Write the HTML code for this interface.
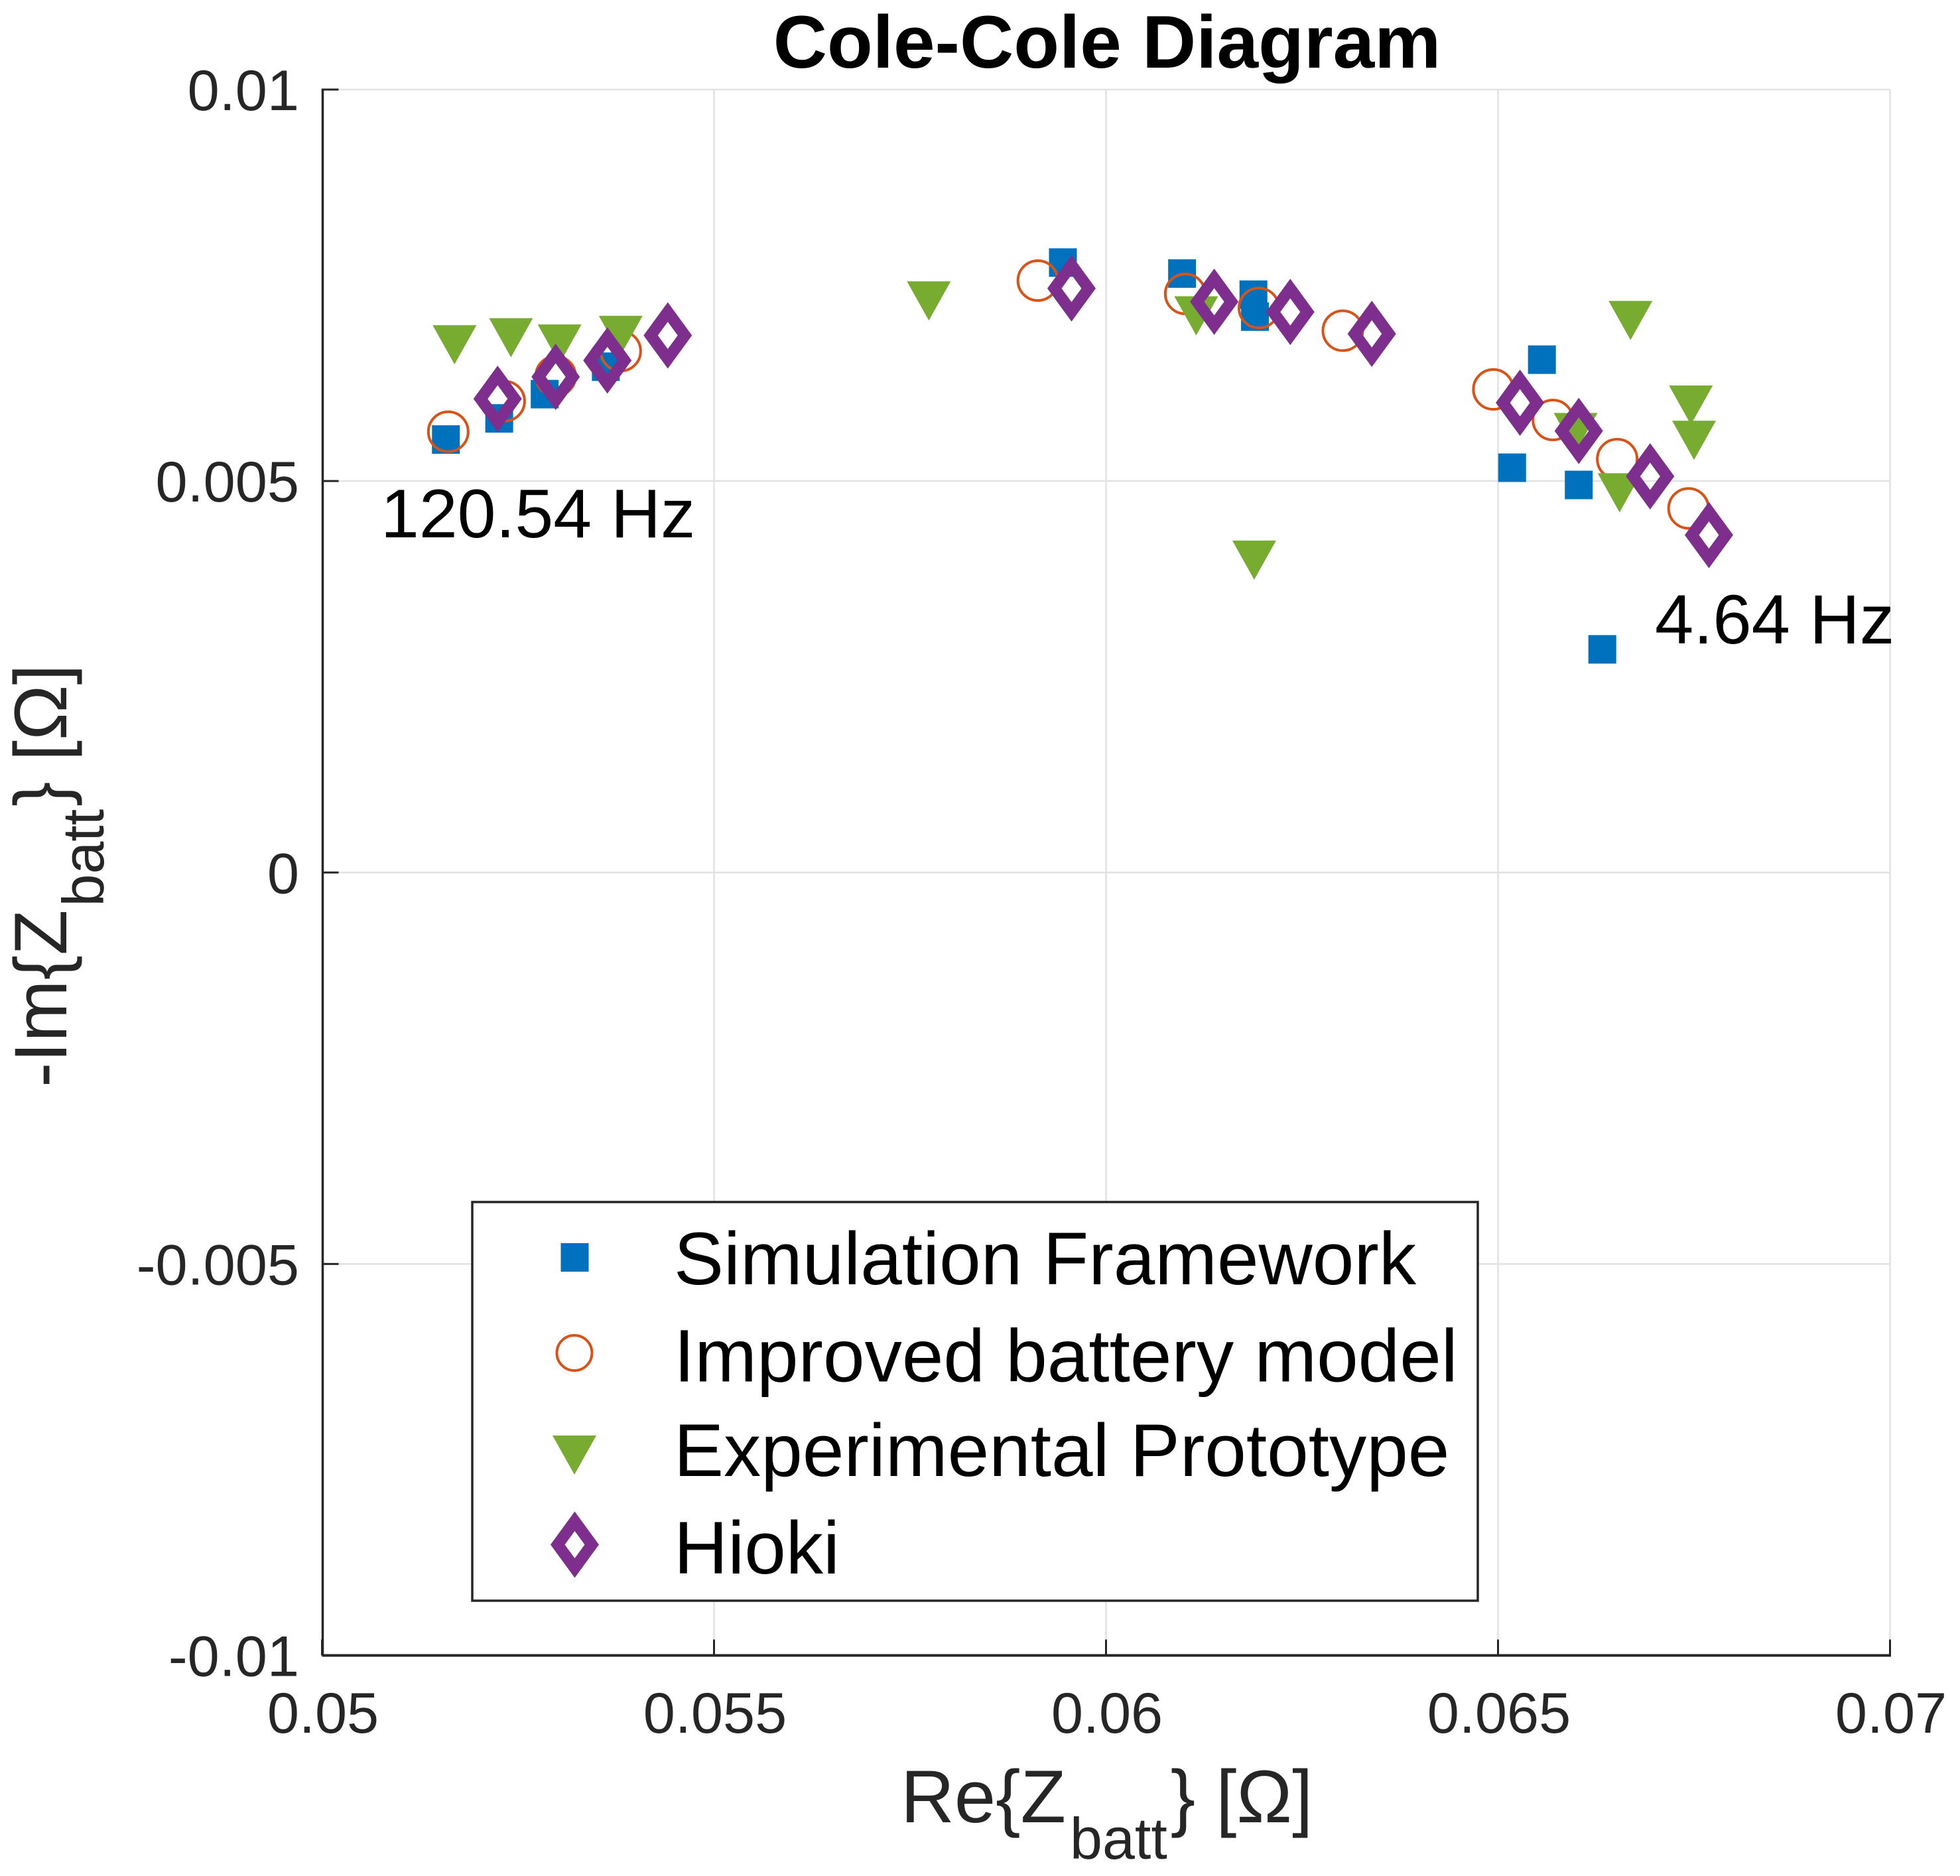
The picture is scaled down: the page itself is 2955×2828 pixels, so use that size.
<!DOCTYPE html>
<html lang="en">
<head>
<meta charset="utf-8">
<title>Cole-Cole Diagram</title>
<style>
html,body{margin:0;padding:0;background:#fff;}
svg{display:block;font-family:"Liberation Sans",Arial,sans-serif;}
</style>
</head>
<body>
<svg id="chart" xmlns="http://www.w3.org/2000/svg" width="2955" height="2828" viewBox="0 0 2955 2828">
  <rect x="0" y="0" width="2955" height="2828" fill="#ffffff"/>
  <g id="grid"></g>
  <g id="axes"></g>
  <g id="marks"></g>

  <text x="1669" y="102" font-size="112.5" font-weight="700" fill="#000" text-anchor="middle">Cole-Cole Diagram</text>
  <text x="1358" y="2747" font-size="112" fill="#262626">Re{Z<tspan font-size="88" dx="6" dy="55">batt</tspan><tspan dx="5" dy="-55">} [Ω]</tspan></text>
  <text transform="translate(100,1639) rotate(-90)" font-size="112" fill="#262626">-Im{Z<tspan font-size="88" dx="5" dy="56">batt</tspan><tspan dx="4" dy="-56">} [Ω]</tspan></text>
  <text x="574" y="810" font-size="104" fill="#000">120.54 Hz</text>
  <text x="2495" y="970" font-size="104.8" fill="#000">4.64 Hz</text>

  <g>
    <rect x="712" y="1812" width="1516" height="601" fill="#ffffff" stroke="#262626" stroke-width="3.5"/>
    <g id="legend-markers"></g>
    <text x="1016" y="1936" font-size="112.5" fill="#000">Simulation Framework</text>
    <text x="1016" y="2082.5" font-size="112.5" fill="#000">Improved battery model</text>
    <text x="1016" y="2225" font-size="112.5" fill="#000">Experimental Prototype</text>
    <text x="1016" y="2372" font-size="112.5" fill="#000">Hioki</text>
  </g>
</svg>
<script>
// Chart data
const xTicks = [0.05, 0.055, 0.06, 0.065, 0.07];
const yTicks = [0.01, 0.005, 0, -0.005, -0.01];
const xTickLabels = ['0.05', '0.055', '0.06', '0.065', '0.07'];
const yTickLabels = ['0.01', '0.005', '0', '-0.005', '-0.01'];

const simulationRe = [0.05158, 0.05226, 0.05284, 0.05362, 0.05945, 0.06097, 0.06188, 0.06190, 0.06556, 0.06518, 0.06603, 0.06633];
const simulationIm = [0.00553, 0.00580, 0.00611, 0.00646, 0.00779, 0.00765, 0.00738, 0.00710, 0.00655, 0.00517, 0.00495, 0.00285];

const improvedRe = [0.05161, 0.05233, 0.05298, 0.05381, 0.05913, 0.06101, 0.06195, 0.06302, 0.06494, 0.06570, 0.06652, 0.06743];
const improvedIm = [0.00563, 0.00602, 0.00634, 0.00666, 0.00756, 0.00739, 0.00721, 0.00692, 0.00617, 0.00578, 0.00528, 0.00465];

const experimentalRe = [0.05169, 0.05241, 0.05303, 0.05381, 0.05774, 0.06115, 0.06189, 0.06669, 0.06746, 0.06750, 0.06599, 0.06655];
const experimentalIm = [0.00674, 0.00683, 0.00675, 0.00686, 0.00730, 0.00711, 0.00399, 0.00705, 0.00597, 0.00552, 0.00562, 0.00485];

const hiokiRe = [0.05224, 0.05298, 0.05364, 0.05441, 0.05956, 0.06138, 0.06235, 0.06339, 0.06528, 0.06603, 0.06694, 0.06769];
const hiokiIm = [0.00605, 0.00633, 0.00654, 0.00686, 0.00746, 0.00729, 0.00716, 0.00688, 0.00600, 0.00564, 0.00506, 0.00431];

// Axis functions
const NS = 'http://www.w3.org/2000/svg';
const plotLeft = 485.5, plotRight = 2849.5, plotTop = 135, plotBottom = 2495.5;
function xPos(v) { return plotLeft + (v - 0.05) / 0.02 * (plotRight - plotLeft); }
function yPos(v) { return plotTop + (0.01 - v) / 0.02 * (plotBottom - plotTop); }

function make(tag, props, parent) {
  const el = document.createElementNS(NS, tag);
  for (const k in props) el.setAttribute(k, props[k]);
  parent.appendChild(el);
  return el;
}

// Marker shapes
const BLUE = '#0072BD', ORANGE = '#D95319', GREEN = '#77AC30', PURPLE = '#7E2F8E';
function squareMark(parent, cx, cy) {
  return make('rect', {x: cx - 21, y: cy - 21.5, width: 42, height: 43, fill: BLUE}, parent);
}
function circleMark(parent, cx, cy, r) {
  return make('circle', {cx: cx, cy: cy, r: r, fill: 'none', stroke: ORANGE, 'stroke-width': 4}, parent);
}
function triangleMark(parent, cx, cy) {
  const pts = (cx - 33) + ',' + (cy - 29.5) + ' ' + (cx + 33) + ',' + (cy - 29.5) + ' ' + cx + ',' + (cy + 29.5);
  return make('polygon', {points: pts, fill: GREEN}, parent);
}
function diamondMark(parent, cx, cy) {
  const d = 'M' + (cx - 36.5) + ' ' + cy + 'L' + cx + ' ' + (cy - 50) + 'L' + (cx + 36.5) + ' ' + cy + 'L' + cx + ' ' + (cy + 50) + 'Z' +
            'M' + (cx - 15) + ' ' + cy + 'L' + cx + ' ' + (cy - 20.5) + 'L' + (cx + 15) + ' ' + cy + 'L' + cx + ' ' + (cy + 20.5) + 'Z';
  return make('path', {d: d, fill: PURPLE, 'fill-rule': 'evenodd'}, parent);
}

// Grid
const gridG = document.getElementById('grid');
xTicks.forEach(function (t) {
  if (t === xTicks[0]) return;
  const line = make('line', {x1: xPos(t), x2: xPos(t), y1: plotTop, y2: plotBottom, stroke: '#e2e2e2', 'stroke-width': 2.5}, gridG);
  
  
});
yTicks.forEach(function (t) {
  if (t === yTicks[yTicks.length - 1]) return;
  const line = make('line', {x1: plotLeft, x2: plotRight, y1: yPos(t), y2: yPos(t), stroke: '#e2e2e2', 'stroke-width': 2.5}, gridG);
  
  
});

// Axes
const axesG = document.getElementById('axes');
const xAxisLine = make('line', {x1: plotLeft, x2: plotRight + 1.5, y1: plotBottom, y2: plotBottom, stroke: '#262626', 'stroke-width': 4}, axesG);


const yAxisLine = make('line', {x1: plotLeft + 1, x2: plotLeft + 1, y1: plotTop - 1.5, y2: plotBottom, stroke: '#262626', 'stroke-width': 3.5}, axesG);



xTicks.forEach(function (t, i) {
  const tick = make('line', {x1: xPos(t), x2: xPos(t), y1: plotBottom, y2: plotBottom - 24, stroke: '#262626', 'stroke-width': 3}, axesG);
  
  
  const label = make('text', {x: xPos(t) + 1.5, y: 2612, 'font-size': 86.5, fill: '#262626', 'text-anchor': 'middle'}, axesG);
  
  
  label.textContent = xTickLabels[i];
});
yTicks.forEach(function (t, i) {
  const tick = make('line', {x1: plotLeft, x2: plotLeft + 25, y1: yPos(t), y2: yPos(t), stroke: '#262626', 'stroke-width': 3}, axesG);
  
  
  const label = make('text', {x: 451, y: yPos(t) + 31, 'font-size': 86.5, fill: '#262626', 'text-anchor': 'end'}, axesG);
  
  
  label.textContent = yTickLabels[i];
});

// Series
const marksG = document.getElementById('marks');
const squaresG = make('g', {}, marksG);


simulationRe.forEach(function (v, i) {
  const m = squareMark(squaresG, xPos(v), yPos(simulationIm[i]));
  
  
});
const circlesG = make('g', {}, marksG);


improvedRe.forEach(function (v, i) {
  const m = circleMark(circlesG, xPos(v), yPos(improvedIm[i]), 30);
  
  
});
const trianglesG = make('g', {}, marksG);


experimentalRe.forEach(function (v, i) {
  const m = triangleMark(trianglesG, xPos(v), yPos(experimentalIm[i]));
  
  
});
const diamondsG = make('g', {}, marksG);


hiokiRe.forEach(function (v, i) {
  const m = diamondMark(diamondsG, xPos(v), yPos(hiokiIm[i]));
  
  
});

// Legend markers
const legendG = document.getElementById('legend-markers');
const legendSquare = squareMark(legendG, 866.5, 1895.5);


const legendCircle = circleMark(legendG, 866, 2039.5, 26.5);


const legendTriangle = triangleMark(legendG, 866, 2193.5);


const legendDiamond = diamondMark(legendG, 866.5, 2328.5);


</script>
</body>
</html>
